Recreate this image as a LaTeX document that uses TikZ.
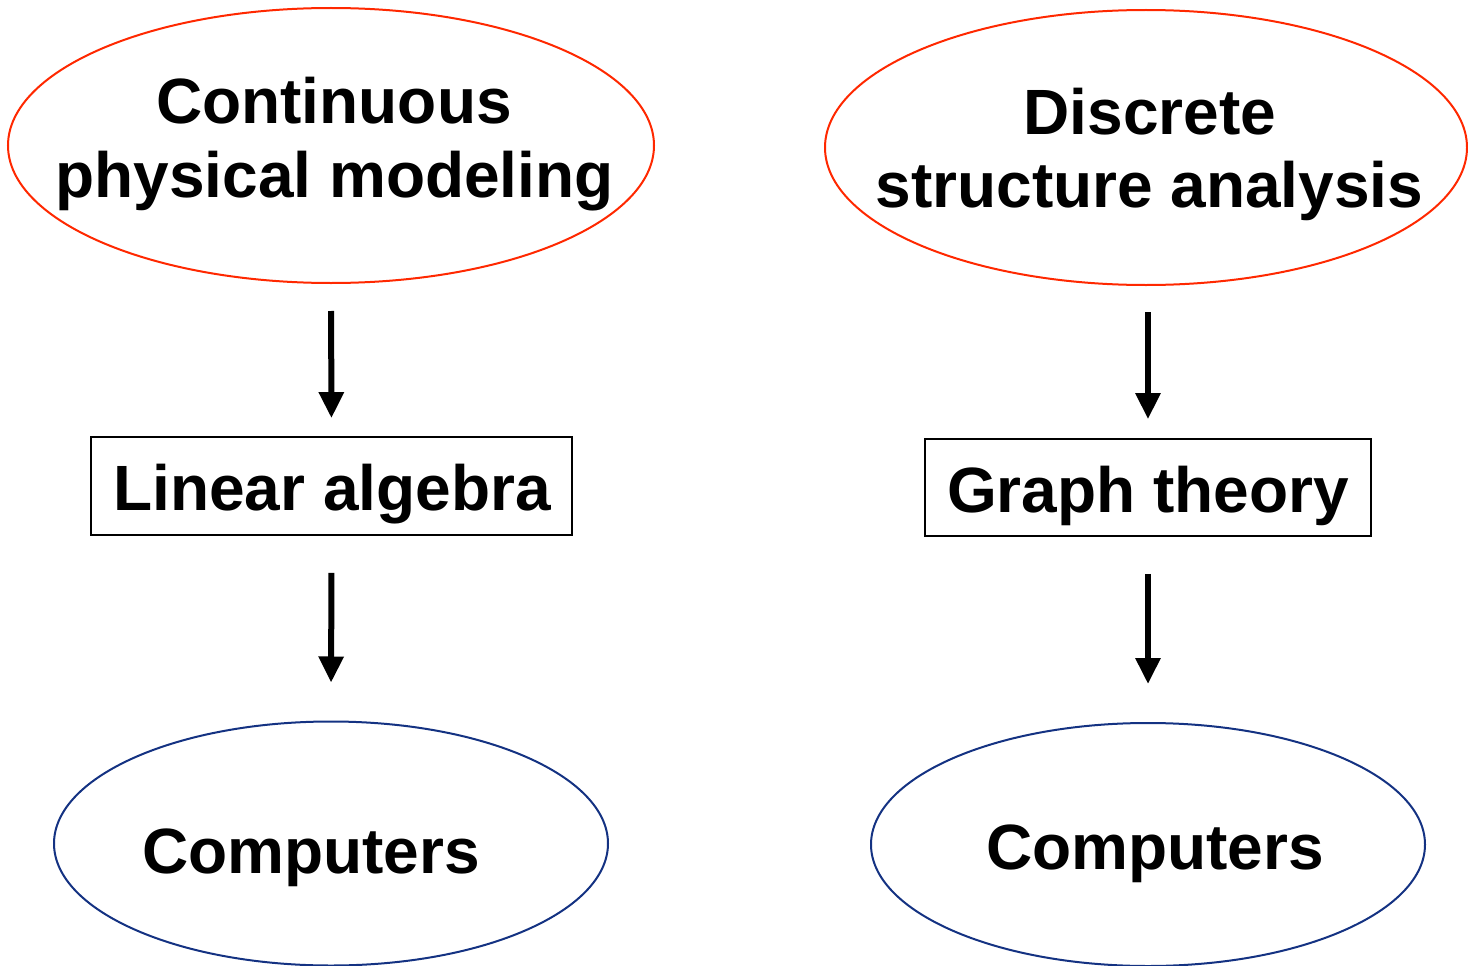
\documentclass[tikz,border=0pt]{standalone}
\usepackage{fontspec}
\setmainfont{Liberation Sans}
\usetikzlibrary{shapes.geometric,arrows.meta}
\definecolor{ellred}{RGB}{255,40,0}
\definecolor{ellblue}{RGB}{20,50,130}
\tikzset{
  topell/.style={ellipse, draw=ellred, line width=2pt, inner sep=0pt},
  botell/.style={ellipse, draw=ellblue, line width=2pt, inner sep=0pt},
  boxnode/.style={rectangle, draw=black, line width=1.8pt, inner sep=0pt},
  lbl/.style={font=\fontsize{64}{72}\selectfont\bfseries, align=center, anchor=base, inner sep=0pt},
  conn/.style={line width=6pt, -{Triangle[width=24pt,length=26pt]}},
}
\begin{document}
\begin{tikzpicture}[x=1pt,y=-1pt]
\useasboundingbox (0,0) rectangle (1468,966);
% ellipses
\node[topell, minimum width=646pt, minimum height=275pt] (e1) at (331,145.5) {};
\node[topell, minimum width=642pt, minimum height=275pt] (e2) at (1146,147.5) {};
\node[botell, minimum width=554pt, minimum height=244pt] (c1) at (331,843.5) {};
\node[botell, minimum width=554pt, minimum height=243pt] (c2) at (1148,844.5) {};
% boxes
\node[boxnode, minimum width=481pt, minimum height=98pt] (b1) at (331.5,486) {};
\node[boxnode, minimum width=446pt, minimum height=97pt] (b2) at (1148,487.5) {};
% texts
\node[lbl] (t1a) at (334,124) {Continuous};
\node[lbl] (t1b) at (334.5,197) {physical modeling};
\node[lbl] (t2a) at (1150,134) {Discrete};
\node[lbl] (t2b) at (1149.5,207) {structure analysis};
\node[lbl] (tb1) at (332,510) {Linear algebra};
\node[lbl] (tb2) at (1148,512) {Graph theory};
\node[lbl] (tc1) at (311,873) {Computers};
\node[lbl] (tc2) at (1155,869) {Computers};
% connectors
\draw[conn, shorten <=27pt, shorten >=18pt] (e1.south) -- (b1.north);
\draw[conn, shorten <=37pt, shorten >=38pt] (b1.south) -- (c1.north);
\draw[conn, shorten <=26pt, shorten >=19pt] (b2.north |- e2.south) -- (b2.north);
\draw[conn, shorten <=37pt, shorten >=38pt] (b2.south) -- (c2.north);
\end{tikzpicture}
\end{document}
